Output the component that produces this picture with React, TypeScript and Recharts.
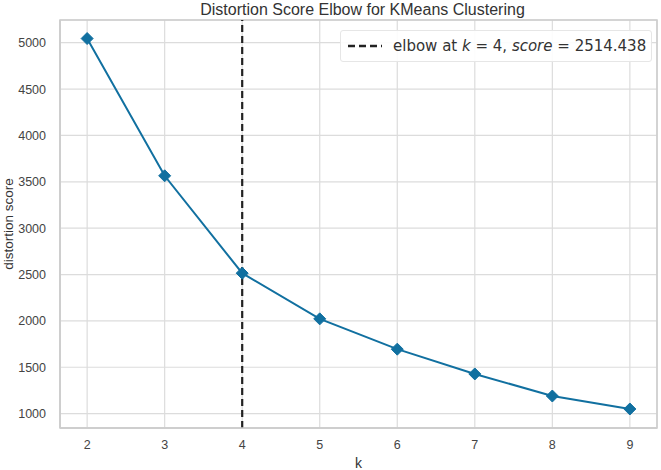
import React from "react";
import {
  LineChart,
  Line,
  XAxis,
  YAxis,
  CartesianGrid,
  ReferenceLine,
  ReferenceArea,
} from "recharts";

const kValues = [2, 3, 4, 5, 6, 7, 8, 9];
const distortionScores = [5045, 3565, 2514.438, 2022, 1695, 1428, 1190, 1050];
const xTicks = [2, 3, 4, 5, 6, 7, 8, 9];
const yTicks = [1000, 1500, 2000, 2500, 3000, 3500, 4000, 4500, 5000];
const elbowK = 4;
const elbowScore = 2514.438;

const data = kValues.map((k, i) => ({ k, score: distortionScores[i] }));

const LINE_COLOR = "#1170a0";
const FONT = "'Liberation Sans', Arial, sans-serif";

const Diamond = (props: any) => {
  const { cx, cy } = props;
  if (cx == null || cy == null) return null;
  const r = 6;
  return (
    <polygon
      points={`${cx},${cy - r} ${cx + r},${cy} ${cx},${cy + r} ${cx - r},${cy}`}
      fill={LINE_COLOR}
      stroke={LINE_COLOR}
    />
  );
};

export default function App() {
  return (
    <div style={{ position: "absolute", left: 0, top: 0, width: 661, height: 470, background: "#fff" }}>
      <div
        style={{
          position: "absolute",
          top: 0,
          left: 64,
          width: 597,
          textAlign: "center",
          fontFamily: FONT,
          fontSize: 16,
          color: "#333",
          lineHeight: "20px",
        }}
      >
        Distortion Score Elbow for KMeans Clustering
      </div>
      <LineChart
        width={661}
        height={470}
        data={data}
        margin={{ top: 20, right: 4, bottom: 0, left: 0 }}
      >
        <CartesianGrid stroke="#dcdcdc" strokeWidth={1.2} />
        <XAxis
          dataKey="k"
          type="number"
          domain={[1.65, 9.35]}
          ticks={xTicks}
          allowDataOverflow
          height={42}
          tickLine={false}
          axisLine={{ stroke: "#cccccc", strokeWidth: 1.5 }}
          tick={{ fill: "#444", fontSize: 12.5, fontFamily: FONT }}
          tickMargin={6}
          label={{ value: "k", position: "insideBottom", offset: 2, fill: "#333", fontSize: 14, fontFamily: FONT }}
        />
        <YAxis
          type="number"
          domain={[845, 5245]}
          ticks={yTicks}
          allowDataOverflow
          width={60}
          tickLine={false}
          axisLine={{ stroke: "#cccccc", strokeWidth: 1.5 }}
          tick={{ fill: "#444", fontSize: 12.5, fontFamily: FONT }}
          tickMargin={8}
          label={{
            value: "distortion score",
            angle: -90,
            position: "insideLeft",
            offset: 8,
            style: { textAnchor: "middle", fill: "#333", fontSize: 13.5, fontFamily: FONT },
          }}
        />
        <ReferenceArea
          x1={1.65}
          x2={9.35}
          y1={845}
          y2={5245}
          fill="none"
          stroke="#cccccc"
          strokeWidth={1.5}
          fillOpacity={0}
        />
        <ReferenceLine x={elbowK} stroke="#222" strokeWidth={2.2} strokeDasharray="7 4" />
        <Line
          dataKey="score"
          stroke={LINE_COLOR}
          strokeWidth={2}
          dot={<Diamond />}
          activeDot={false}
          isAnimationActive={false}
        />
      </LineChart>
      <div
        style={{
          position: "absolute",
          left: 340,
          top: 30,
          width: 312,
          height: 32,
          boxSizing: "border-box",
          display: "flex",
          alignItems: "center",
          background: "rgba(255,255,255,0.9)",
          border: "1px solid #e6e6e6",
          borderRadius: 3,
          paddingLeft: 6,
          fontFamily: "'DejaVu Sans', sans-serif",
          fontSize: 15,
          color: "#333",
          whiteSpace: "nowrap",
        }}
      >
        <svg width={36} height={10} style={{ marginRight: 10 }}>
          <line x1={1} y1={5} x2={35} y2={5} stroke="#222" strokeWidth={2.5} strokeDasharray="7 4" />
        </svg>
        <span>
          elbow at <i>k</i> = {elbowK}, <i>score</i> = {elbowScore.toFixed(3)}
        </span>
      </div>
    </div>
  );
}
